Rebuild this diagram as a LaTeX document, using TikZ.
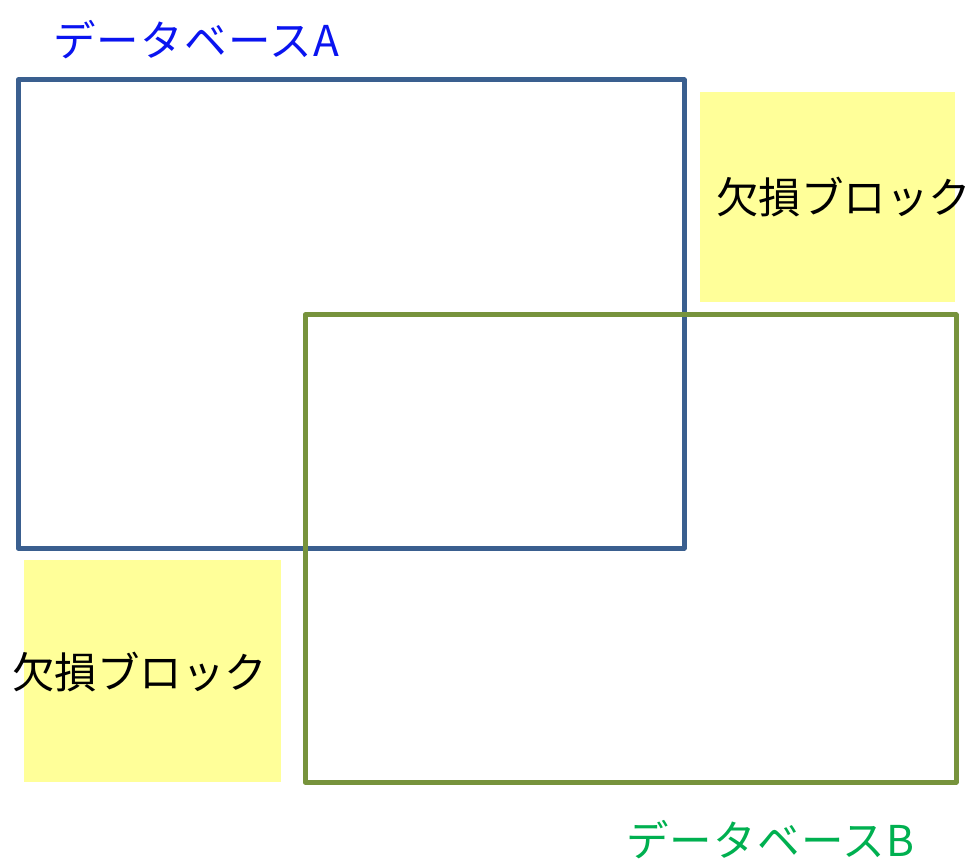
\documentclass[tikz,border=0pt]{standalone}
\usepackage{fontspec}
\newfontfamily\cjk{Noto Sans CJK JP}
\newfontfamily\cjkwide[LetterSpace=3]{Noto Sans CJK JP}
\definecolor{rectA}{HTML}{3A5F8F}
\definecolor{rectB}{HTML}{77933C}
\definecolor{missing}{HTML}{FFFF99}
\definecolor{labA}{HTML}{0A14F0}
\definecolor{labB}{HTML}{00B050}
\begin{document}
\begin{tikzpicture}[x=1pt,y=-1pt,
  lbl/.style={font=\cjk\fontsize{42.5}{42.5}\selectfont, inner sep=0pt, anchor=west},
  dblbl/.style={font=\cjkwide\fontsize{42.5}{42.5}\selectfont, inner sep=0pt, anchor=west},
  dbbox/.style={line width=5pt, line join=round},
  miss/.style={fill=missing, draw=none}]
\useasboundingbox (0,0) rectangle (970,861);
\fill[miss] (700,92) rectangle (955,302);
\fill[miss] (24,560) rectangle (281,782);
\draw[dbbox, rectA] (18,80) rectangle (684,548);
\draw[dbbox, rectB] (305,315) rectangle (956,782);
\node[dblbl, labA] (la) at (53,40) {データベースA};
\node[dblbl, labB] (lb) at (626,840) {データベースB};
\node[lbl] (m1) at (716,197) {欠損ブロック};
\node[lbl] (m2) at (12,672) {欠損ブロック};
\end{tikzpicture}
\end{document}
